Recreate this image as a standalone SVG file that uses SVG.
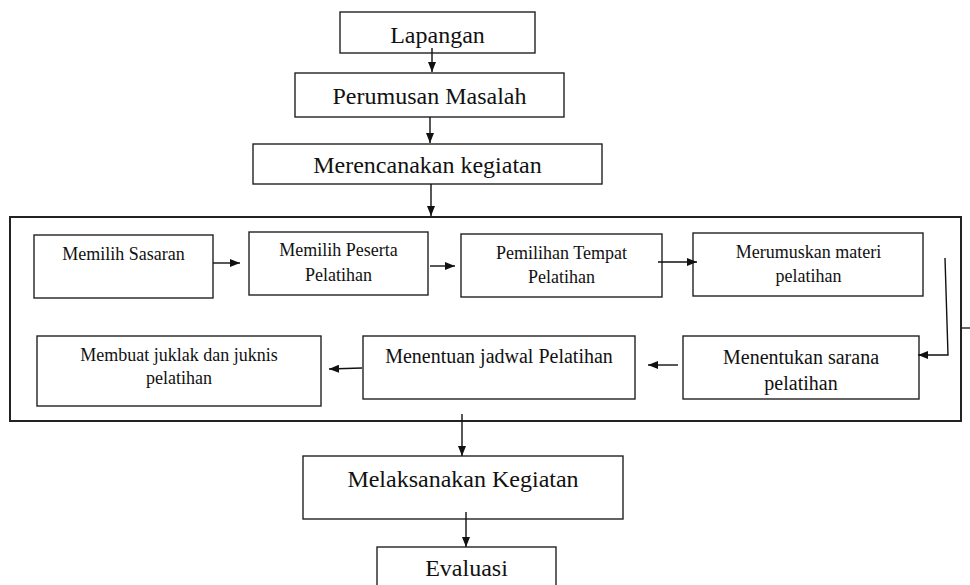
<svg xmlns="http://www.w3.org/2000/svg" width="970" height="585" viewBox="0 0 970 585">
<style>
  .box{fill:#fff;stroke:#222;stroke-width:1.4}
  .frame{fill:none;stroke:#222;stroke-width:2}
  .t24{font-family:"Liberation Serif","Times New Roman",serif;font-size:24px;fill:#111;text-anchor:middle}
  .t20{font-family:"Liberation Serif","Times New Roman",serif;font-size:20px;fill:#111;text-anchor:middle}
  .t18{font-family:"Liberation Serif","Times New Roman",serif;font-size:18px;fill:#111;text-anchor:middle}
  .conn line,.conn polyline{stroke:#111;stroke-width:1.4;fill:none}
</style>
<defs>
  <marker id="ah" viewBox="0 0 10 8" refX="10" refY="4" markerWidth="10" markerHeight="8" markerUnits="userSpaceOnUse" orient="auto">
    <path d="M0,0 L10,4 L0,8 Z" fill="#111"/>
  </marker>
</defs>
<rect width="970" height="585" fill="#fff"/>

<g id="frame-merencanakan">
  <rect class="frame" x="10" y="217" width="951" height="204"/>
  <line x1="961" y1="328" x2="970" y2="328" stroke="#222" stroke-width="1.4"/>
</g>

<g id="lapangan">
  <rect class="box" x="340" y="12" width="195" height="41"/>
  <text class="t24" x="437.5" y="43">Lapangan</text>
</g>
<g id="perumusan">
  <rect class="box" x="295" y="73" width="269" height="44"/>
  <text class="t24" x="429.5" y="104">Perumusan Masalah</text>
</g>
<g id="merencanakan">
  <rect class="box" x="253" y="144" width="349" height="40"/>
  <text class="t24" x="427.5" y="173">Merencanakan kegiatan</text>
</g>

<g id="memilih-sasaran">
  <rect class="box" x="34" y="235" width="179" height="63"/>
  <text class="t18" x="123.5" y="260">Memilih Sasaran</text>
</g>
<g id="memilih-peserta">
  <rect class="box" x="249" y="232" width="179" height="63"/>
  <text class="t18" x="338.5" y="256">Memilih Peserta</text>
  <text class="t18" x="338.5" y="281">Pelatihan</text>
</g>
<g id="pemilihan-tempat">
  <rect class="box" x="461" y="234" width="201" height="63"/>
  <text class="t18" x="561.5" y="259">Pemilihan Tempat</text>
  <text class="t18" x="561.5" y="283">Pelatihan</text>
</g>
<g id="merumuskan-materi">
  <rect class="box" x="693" y="233" width="230" height="63"/>
  <text class="t18" x="808.5" y="258">Merumuskan materi</text>
  <text class="t18" x="808.5" y="282">pelatihan</text>
</g>
<g id="menentukan-sarana">
  <rect class="box" x="683" y="336" width="236" height="63"/>
  <text class="t20" x="801" y="364">Menentukan sarana</text>
  <text class="t20" x="801" y="390">pelatihan</text>
</g>
<g id="menentuan-jadwal">
  <rect class="box" x="363" y="336" width="272" height="63"/>
  <text class="t20" x="499" y="363">Menentuan jadwal Pelatihan</text>
</g>
<g id="membuat-juklak">
  <rect class="box" x="37" y="336" width="284" height="70"/>
  <text class="t18" x="179" y="361">Membuat juklak dan juknis</text>
  <text class="t18" x="179" y="384">pelatihan</text>
</g>

<g id="melaksanakan">
  <rect class="box" x="303" y="456" width="320" height="63"/>
  <text class="t24" x="463" y="487">Melaksanakan Kegiatan</text>
</g>
<g id="evaluasi">
  <rect class="box" x="377" y="547" width="179" height="50"/>
  <text class="t24" x="466.5" y="576">Evaluasi</text>
</g>

<g id="connectors" class="conn">
  <line x1="432" y1="48" x2="432" y2="72" marker-end="url(#ah)"/>
  <line x1="430" y1="117" x2="430" y2="143" marker-end="url(#ah)"/>
  <line x1="431" y1="184" x2="431" y2="216" marker-end="url(#ah)"/>
  <line x1="213" y1="263" x2="240" y2="263" marker-end="url(#ah)"/>
  <line x1="430" y1="266" x2="455" y2="266" marker-end="url(#ah)"/>
  <line x1="658" y1="262" x2="697" y2="262" marker-end="url(#ah)"/>
  <polyline points="945,258 948,355 918,355" marker-end="url(#ah)"/>
  <line x1="678" y1="365" x2="648" y2="365" marker-end="url(#ah)"/>
  <line x1="362" y1="368" x2="329" y2="369" marker-end="url(#ah)"/>
  <line x1="462" y1="414" x2="462" y2="456" marker-end="url(#ah)"/>
  <line x1="466" y1="512" x2="466" y2="547" marker-end="url(#ah)"/>
</g>
</svg>
